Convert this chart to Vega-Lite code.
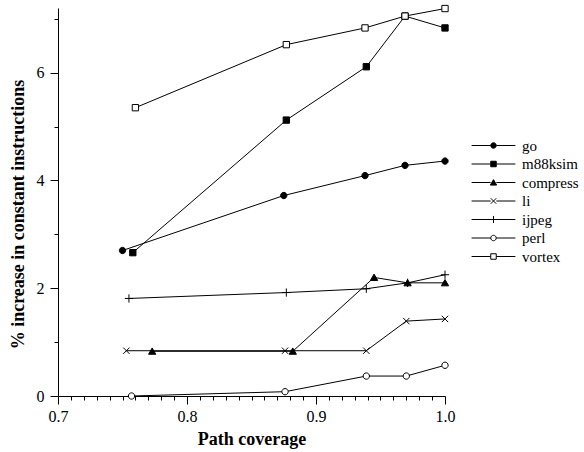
{
  "$schema": "https://vega.github.io/schema/vega-lite/v6.json",
  "width": 387,
  "height": 388,
  "autosize": "none",
  "padding": {"left": 58, "top": 8, "right": 139, "bottom": 56},
  "background": "white",
  "config": {
    "view": {"stroke": null},
    "font": "Liberation Serif",
    "axis": {"grid": false, "domainColor": "black", "tickColor": "black", "labelColor": "black", "titleColor": "black", "domainWidth": 1, "tickWidth": 1, "labelFont": "Liberation Serif", "titleFont": "Liberation Serif"},
    "legend": {"labelFont": "Liberation Serif"}
  },
  "data": {
    "values": [
      {"series": "go", "coverage": 0.750, "increase": 2.70},
      {"series": "go", "coverage": 0.875, "increase": 3.72},
      {"series": "go", "coverage": 0.938, "increase": 4.09},
      {"series": "go", "coverage": 0.969, "increase": 4.28},
      {"series": "go", "coverage": 1.000, "increase": 4.36},
      {"series": "m88ksim", "coverage": 0.758, "increase": 2.66},
      {"series": "m88ksim", "coverage": 0.877, "increase": 5.12},
      {"series": "m88ksim", "coverage": 0.939, "increase": 6.11},
      {"series": "m88ksim", "coverage": 0.969, "increase": 7.05},
      {"series": "m88ksim", "coverage": 1.000, "increase": 6.83},
      {"series": "compress", "coverage": 0.773, "increase": 0.83},
      {"series": "compress", "coverage": 0.882, "increase": 0.83},
      {"series": "compress", "coverage": 0.945, "increase": 2.20},
      {"series": "compress", "coverage": 0.971, "increase": 2.10},
      {"series": "compress", "coverage": 1.000, "increase": 2.10},
      {"series": "li", "coverage": 0.753, "increase": 0.84},
      {"series": "li", "coverage": 0.876, "increase": 0.84},
      {"series": "li", "coverage": 0.939, "increase": 0.84},
      {"series": "li", "coverage": 0.970, "increase": 1.39},
      {"series": "li", "coverage": 1.000, "increase": 1.43},
      {"series": "ijpeg", "coverage": 0.755, "increase": 1.81},
      {"series": "ijpeg", "coverage": 0.877, "increase": 1.92},
      {"series": "ijpeg", "coverage": 0.939, "increase": 1.99},
      {"series": "ijpeg", "coverage": 0.971, "increase": 2.10},
      {"series": "ijpeg", "coverage": 1.000, "increase": 2.25},
      {"series": "perl", "coverage": 0.757, "increase": 0.00},
      {"series": "perl", "coverage": 0.876, "increase": 0.08},
      {"series": "perl", "coverage": 0.939, "increase": 0.37},
      {"series": "perl", "coverage": 0.970, "increase": 0.37},
      {"series": "perl", "coverage": 1.000, "increase": 0.57},
      {"series": "vortex", "coverage": 0.760, "increase": 5.35},
      {"series": "vortex", "coverage": 0.877, "increase": 6.52},
      {"series": "vortex", "coverage": 0.938, "increase": 6.83},
      {"series": "vortex", "coverage": 0.969, "increase": 7.05},
      {"series": "vortex", "coverage": 1.000, "increase": 7.19}
    ]
  },
  "layer": [
    {
      "mark": {"type": "line", "color": "black", "strokeWidth": 1},
      "encoding": {
        "x": {"field": "coverage", "type": "quantitative", "scale": {"domain": [0.7, 1.0], "nice": false, "zero": false},
          "axis": {"orient": "bottom", "values": [0.7, 0.8, 0.9, 1.0], "format": ".1f", "tickSize": 8, "labelPadding": 4, "labelFont": "Liberation Serif", "labelFontSize": 16, "labelFlush": false, "labelOverlap": false,
            "title": "Path coverage", "titleFont": "Liberation Serif", "titleFontSize": 18, "titleFontWeight": "bold", "titleY": 34, "titleBaseline": "top"}},
        "y": {"field": "increase", "type": "quantitative", "scale": {"domain": [0, 7.2], "nice": false, "zero": true},
          "axis": {"orient": "left", "values": [0, 2, 4, 6], "format": "d", "tickSize": 8, "labelPadding": 6, "labelFont": "Liberation Serif", "labelFontSize": 16, "labelFlush": false, "labelOverlap": false,
            "title": "% increase in constant instructions", "titleFont": "Liberation Serif", "titleFontSize": 18, "titleFontWeight": "bold", "titleX": -31, "titleY": 206, "titleAngle": -90, "titleBaseline": "bottom", "titleAlign": "center"}},
        "detail": {"field": "series", "type": "nominal"},
        "order": {"field": "coverage", "type": "quantitative"}
      }
    },
    {
      "mark": {"type": "point", "filled": true, "stroke": "black", "strokeWidth": 1, "opacity": 1, "size": 40},
      "encoding": {
        "x": {"field": "coverage", "type": "quantitative",
          "axis": {"orient": "bottom", "values": [0.71, 0.72, 0.73, 0.74, 0.75, 0.76, 0.77, 0.78, 0.79, 0.81, 0.82, 0.83, 0.84, 0.85, 0.86, 0.87, 0.88, 0.89, 0.91, 0.92, 0.93, 0.94, 0.95, 0.96, 0.97, 0.98, 0.99], "tickSize": 4, "labels": false, "domain": false, "title": null}},
        "y": {"field": "increase", "type": "quantitative",
          "axis": {"orient": "left", "values": [1, 3, 5, 7], "tickSize": 4, "labels": false, "domain": false, "title": null}},
        "shape": {"field": "series", "type": "nominal",
          "scale": {"domain": ["vortex", "perl", "ijpeg", "li", "compress", "m88ksim", "go"],
            "range": ["M-1,-1H1V1H-1Z", "M1,0A1,1,0,1,1,-1,0A1,1,0,1,1,1,0Z", "M-1.3,0H1.3M0,-1.3V1.3", "M-1,-1L1,1M-1,1L1,-1", "M0,-1.05L1.15,0.95H-1.15Z", "M-1,-1H1V1H-1Z", "M1,0A1,1,0,1,1,-1,0A1,1,0,1,1,1,0Z"]},
          "legend": null},
        "fill": {"field": "series", "type": "nominal",
          "scale": {"domain": ["go", "m88ksim", "compress", "li", "ijpeg", "perl", "vortex"],
            "range": ["black", "black", "black", "black", "black", "white", "white"]},
          "legend": {"orient": "none", "legendX": 406, "legendY": 130, "title": null, "padding": 0,
            "labelFont": "Liberation Serif", "labelFontSize": 15, "labelColor": "black",
            "symbolSize": 30, "symbolOffset": 22, "labelOffset": 21, "rowPadding": 2.5,
            "symbolStrokeColor": "black", "symbolStrokeWidth": 1, "symbolOpacity": 1,
            "symbolType": {"expr": "'M-8,0H-1.05M1.05,0H8' + (datum.value === 'go' || datum.value === 'perl' ? 'M1,0A1,1,0,1,1,-1,0A1,1,0,1,1,1,0Z' : datum.value === 'm88ksim' || datum.value === 'vortex' ? 'M-1,-1H1V1H-1Z' : datum.value === 'compress' ? 'M0,-1.05L1.15,0.95H-1.15Z' : datum.value === 'li' ? 'M-1,-1L1,1M-1,1L1,-1' : 'M-1.3,0H1.3M0,-1.3V1.3')"}}}
      }
    }
  ],
  "resolve": {"axis": {"x": "independent", "y": "independent"}}
}
